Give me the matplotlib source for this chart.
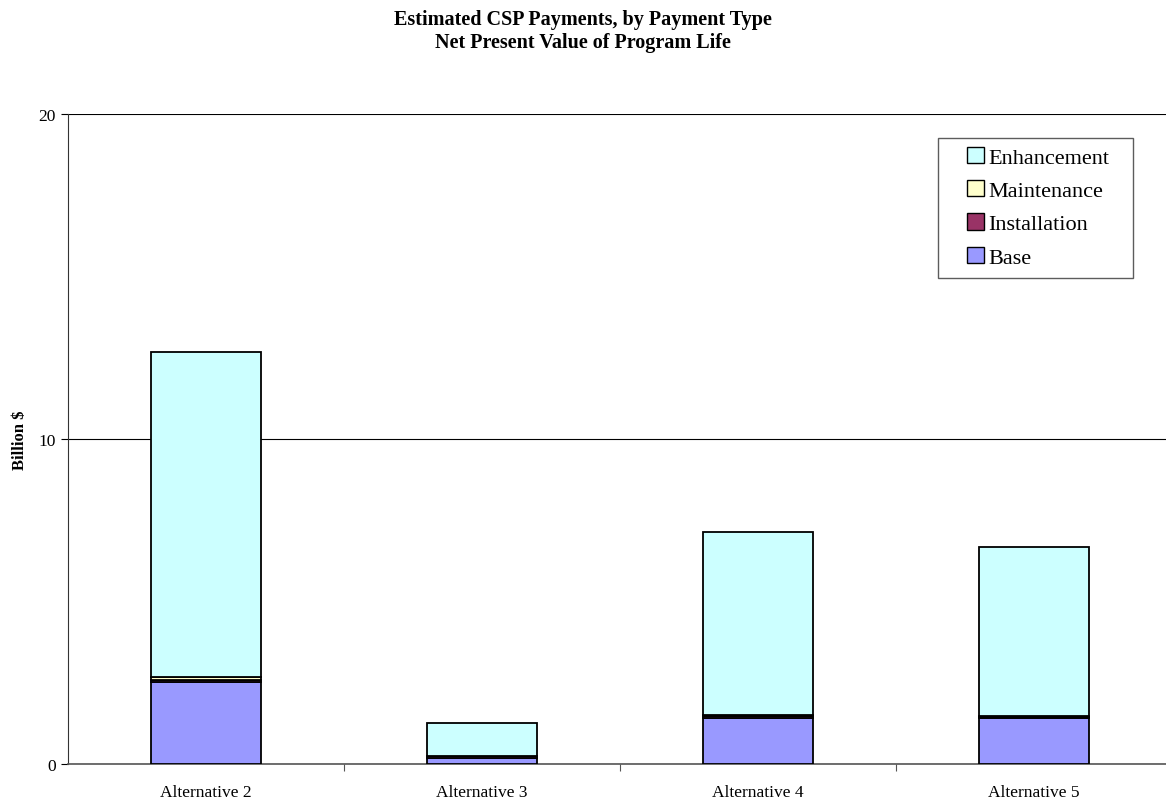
import numpy as np
import matplotlib.pyplot as plt
from matplotlib.patches import Patch, Rectangle
from matplotlib.legend_handler import HandlerPatch

plt.rcParams['font.family'] = ['Liberation Serif', 'DejaVu Serif']

categories = ['Alternative 2', 'Alternative 3', 'Alternative 4', 'Alternative 5']
base = [2.53, 0.20, 1.43, 1.41]
installation = [0.06, 0.05, 0.05, 0.05]
maintenance = [0.10, 0.01, 0.02, 0.01]
enhancement = [10.00, 0.99, 5.64, 5.21]

series = [('Base', base, '#9999FF'),
          ('Installation', installation, '#993366'),
          ('Maintenance', maintenance, '#FFFFCC'),
          ('Enhancement', enhancement, '#CCFFFF')]

fig = plt.figure(figsize=(11.66, 8.03), dpi=100)
ax = fig.add_axes([68/1166, 38/803, 1104/1166, 650/803])

x = np.arange(len(categories))
bottom = np.zeros(len(categories))
for name, vals, col in series:
    ax.bar(x, vals, bottom=bottom, width=0.4, color=col, edgecolor='black',
           linewidth=1.3, zorder=3)
    bottom += np.array(vals)

ax.set_xlim(-0.5, len(categories) - 0.5)
ax.set_ylim(0, 20)
ax.set_yticks([0, 10, 20])
ax.yaxis.grid(True, color='black', linewidth=0.8, zorder=0)
for s in ['top', 'right']:
    ax.spines[s].set_visible(False)
ax.spines['left'].set_color('#333333')
ax.spines['bottom'].set_color('#555555')
ax.spines['bottom'].set_linewidth(1.2)
ax.tick_params(axis='y', labelsize=12.5, length=5, direction='out', pad=4)

# category labels sit between boundary ticks
ax.set_xticks(x[:-1] + 0.5)
ax.set_xticklabels([])
ax.tick_params(axis='x', length=5, direction='out', color='#555555')
for i, c in enumerate(categories):
    ax.text(x[i], -0.62, c, ha='center', va='top', fontsize=12.5)

ax.set_ylabel('Billion $', fontsize=12, fontweight='bold', labelpad=7)

fig.text(0.5, 0.987, 'Estimated CSP Payments, by Payment Type\nNet Present Value of Program Life',
         ha='center', va='top', fontsize=14.5, fontweight='bold', linespacing=1.15)


# square swatch pushed to the right end of the handle box, like Excel
def square(legend, orig_handle, xdescent, ydescent, width, height, fontsize):
    s = height * 1.15
    return Rectangle((width - s - xdescent, -ydescent + (height - s) / 2), s, s)


handles = [Patch(facecolor=col, edgecolor='black', label=name) for name, _, col in series[::-1]]
x0 = (938 - 68) / 1104
w = 195 / 1104
y1 = (765 - 139) / 650
h = 133 / 650
leg = ax.legend(handles=handles, loc='upper left', bbox_to_anchor=(x0, y1 - h, w, h),
                mode='expand', fontsize=16, frameon=True, fancybox=False,
                handlelength=1.6, handleheight=0.6, handletextpad=0.2,
                borderpad=0.45, labelspacing=0.6, borderaxespad=0,
                handler_map={Patch: HandlerPatch(patch_func=square)})
leg.get_frame().set_edgecolor('#333333')
leg.get_frame().set_linewidth(1.0)

fig.savefig('out.png', dpi=100)
